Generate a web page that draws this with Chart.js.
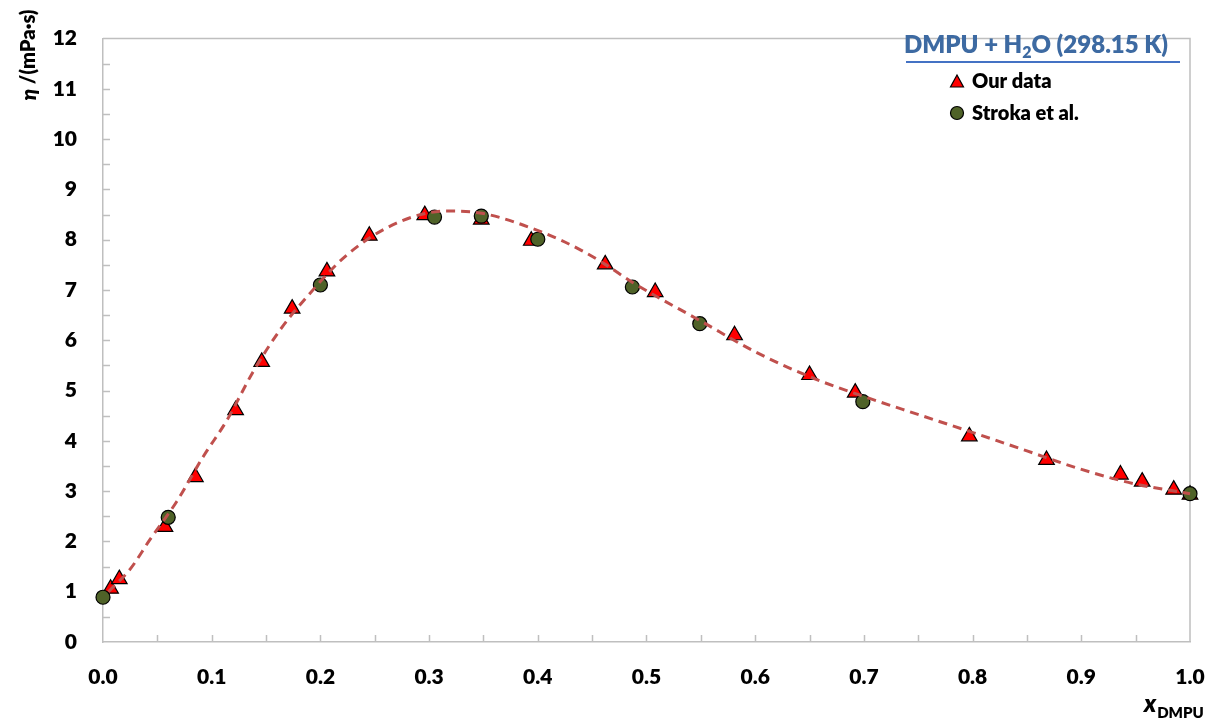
<!DOCTYPE html>
<html>
<head>
<meta charset="utf-8">
<script src="https://cdn.jsdelivr.net/npm/chart.js@4.4.1/dist/chart.umd.min.js"></script>
<style>
html, body { margin: 0; padding: 0; background: #fff; }
</style>
</head>
<body>
<canvas id="chart" width="1220" height="720"></canvas>
<script>
// <-- data -->
const ourX = [0.007, 0.015, 0.057, 0.085, 0.122, 0.146, 0.174, 0.206, 0.245, 0.296, 0.348, 0.394,
    0.462, 0.508, 0.581, 0.650, 0.692, 0.797, 0.868, 0.936, 0.956, 0.985, 1.0];
const ourY = [1.06, 1.25, 2.29, 3.28, 4.61, 5.57, 6.63, 7.37, 8.08, 8.49, 8.40, 7.98,
    7.51, 6.96, 6.10, 5.31, 4.96, 4.09, 3.62, 3.33, 3.19, 3.03, 2.93];

const strokaX = [0.0, 0.060, 0.200, 0.305, 0.348, 0.400, 0.487, 0.549, 0.699, 1.0];
const strokaY = [0.89, 2.48, 7.10, 8.45, 8.47, 8.01, 7.06, 6.33, 4.78, 2.95];

// dashed fit curve, points picked along the line
const fitX = [0.005, 0.025, 0.043, 0.068, 0.092, 0.114, 0.138, 0.163, 0.187, 0.224, 0.270, 0.316,
    0.350, 0.405, 0.440, 0.462, 0.488, 0.551, 0.601, 0.653, 0.703, 0.752, 0.801, 0.850, 0.899, 0.948, 1.0];
const fitY = [1.00, 1.45, 2.03, 2.80, 3.68, 4.41, 5.37, 6.21, 6.85, 7.69, 8.33, 8.57,
    8.52, 8.14, 7.79, 7.51, 7.14, 6.37, 5.76, 5.25, 4.86, 4.51, 4.16, 3.80, 3.44, 3.15, 2.95];

const xMin = 0, xMax = 1, xStep = 0.1, xMinor = 0.05;
const yMin = 0, yMax = 12, yStep = 1, yMinor = 0.5;

const toPoints = (xs, ys) => xs.map((x, i) => ({ x: x, y: ys[i] }));

const FONT = "Lato, 'Open Sans', sans-serif";
const W = '800';
const axisGrey = '#BFBFBF';

// ticks pointing inwards, box around plot, legend and axis titles
const decor = {
    id: 'decor',
    beforeDatasetsDraw(chart) {
        const ctx = chart.ctx;
        const area = chart.chartArea;
        const xs = chart.scales.x, ys = chart.scales.y;
        ctx.save();
        ctx.strokeStyle = axisGrey;
        ctx.lineWidth = 1.5;
        // top and right border
        ctx.beginPath();
        ctx.moveTo(area.left, area.top);
        ctx.lineTo(area.right, area.top);
        ctx.lineTo(area.right, area.bottom);
        ctx.stroke();
        // minor / major ticks
        ctx.beginPath();
        for (let v = xMin + xMinor; v <= xMax - xMinor / 2; v += xMinor) {
            const px = Math.round(xs.getPixelForValue(v)) + 0.5;
            ctx.moveTo(px, area.bottom);
            ctx.lineTo(px, area.bottom - 7);
        }
        for (let v = yMin + yMinor; v <= yMax - yMinor / 2; v += yMinor) {
            const py = Math.round(ys.getPixelForValue(v)) + 0.5;
            ctx.moveTo(area.left, py);
            ctx.lineTo(area.left + 7, py);
        }
        ctx.stroke();
        ctx.restore();
    },
    afterDraw(chart) {
        const ctx = chart.ctx;
        ctx.save();

        // legend title with subscript
        ctx.fillStyle = '#3D6AA2';
        ctx.textBaseline = 'alphabetic';
        const big = W + ' 24px ' + FONT, small = W + ' 16px ' + FONT;
        const parts = [['DMPU + H', big, 0], ['2', small, 5], ['O (298.15 K)', big, 0]];
        let total = 0;
        parts.forEach(p => { ctx.font = p[1]; total += ctx.measureText(p[0]).width; });
        let tx = 1036 - total / 2;
        parts.forEach(p => {
            ctx.font = p[1];
            ctx.fillText(p[0], tx, 53 + p[2]);
            tx += ctx.measureText(p[0]).width;
        });
        ctx.strokeStyle = '#4472C4';
        ctx.lineWidth = 2;
        ctx.beginPath();
        ctx.moveTo(906, 62);
        ctx.lineTo(1180, 62);
        ctx.stroke();

        // legend items
        ctx.lineWidth = 1.2;
        ctx.strokeStyle = '#000';
        ctx.fillStyle = '#FF0000';
        ctx.beginPath();
        ctx.moveTo(957, 75);
        ctx.lineTo(963.5, 87);
        ctx.lineTo(950.5, 87);
        ctx.closePath();
        ctx.fill();
        ctx.stroke();
        ctx.fillStyle = '#4F6228';
        ctx.beginPath();
        ctx.arc(957, 113, 6.5, 0, Math.PI * 2);
        ctx.fill();
        ctx.stroke();
        ctx.fillStyle = '#000';
        ctx.font = W + ' 20px ' + FONT;
        ctx.fillText('Our data', 972, 88);
        ctx.fillText('Stroka et al.', 972, 120);

        // y axis title
        ctx.save();
        ctx.translate(29, 55);
        ctx.rotate(-Math.PI / 2);
        ctx.textBaseline = 'middle';
        const eta = 'italic ' + W + ' 21px ' + FONT, rest = W + ' 20px ' + FONT;
        ctx.font = eta;
        const w1 = ctx.measureText('\u03B7').width;
        ctx.font = rest;
        const w2 = ctx.measureText(' /(mPa\u00B7s)').width;
        const ax = -(w1 + w2) / 2;
        ctx.font = eta;
        ctx.fillText('\u03B7', ax, 0);
        ctx.font = rest;
        ctx.fillText(' /(mPa\u00B7s)', ax + w1, 0);
        ctx.restore();

        // x axis title
        ctx.textBaseline = 'alphabetic';
        ctx.font = 'italic ' + W + ' 24px ' + FONT;
        ctx.fillText('x', 1144, 712);
        const wx = ctx.measureText('x').width;
        ctx.font = W + ' 15px ' + FONT;
        ctx.fillText('DMPU', 1144 + wx + 1, 718);

        ctx.restore();
    }
};

const chartCanvas = document.getElementById('chart');

const viscosityChart = new Chart(chartCanvas, {
    type: 'scatter',
    data: {
        datasets: [{
            label: 'fit',
            data: toPoints(fitX, fitY),
            showLine: true,
            cubicInterpolationMode: 'monotone',
            borderColor: '#C0504D',
            borderWidth: 3,
            borderDash: [9, 6],
            pointRadius: 0,
            fill: false,
            clip: false,
            order: 0
        }, {
            label: 'Stroka et al.',
            data: toPoints(strokaX, strokaY),
            pointStyle: 'circle',
            pointRadius: 7,
            backgroundColor: '#4F6228',
            borderColor: '#000',
            borderWidth: 1.2,
            clip: false,
            order: 1
        }, {
            label: 'Our data',
            data: toPoints(ourX, ourY),
            pointStyle: 'triangle',
            pointRadius: 9,
            backgroundColor: '#FF0000',
            borderColor: '#000',
            borderWidth: 1.2,
            clip: false,
            order: 2
        }]
    },
    options: {
        responsive: false,
        devicePixelRatio: 1,
        animation: false,
        layout: {
            padding: { top: 20, right: 30, left: 0, bottom: 0 }
        },
        scales: {
            x: {
                type: 'linear',
                min: xMin,
                max: xMax,
                // grid hidden, tickLength only pushes the labels down
                grid: { display: false, drawTicks: true, tickLength: 15 },
                border: { display: true, color: axisGrey, width: 1.5 },
                ticks: {
                    stepSize: xStep,
                    color: '#000',
                    padding: 8,
                    maxRotation: 0,
                    font: { family: FONT, size: 21, weight: W },
                    callback: v => v.toFixed(1)
                },
                afterFit: scale => { scale.height = 78; }
            },
            y: {
                type: 'linear',
                min: yMin,
                max: yMax,
                grid: { display: false, drawTicks: false },
                border: { display: true, color: axisGrey, width: 1.5 },
                ticks: {
                    stepSize: yStep,
                    color: '#000',
                    padding: 26,
                    font: { family: FONT, size: 21, weight: W }
                },
                afterFit: scale => { scale.width = 103; }
            }
        },
        plugins: {
            legend: { display: false },
            tooltip: { enabled: false }
        }
    },
    plugins: [decor]
});
</script>
</body>
</html>
